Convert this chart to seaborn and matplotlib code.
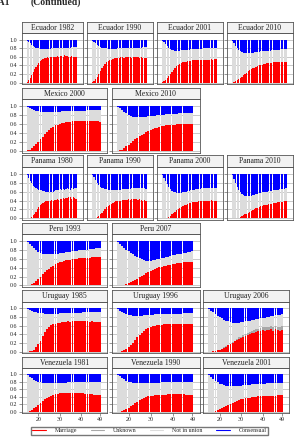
import matplotlib
matplotlib.use("Agg")
import matplotlib.pyplot as plt
from matplotlib.lines import Line2D
import pandas as pd
import seaborn as sns

# ages 15..49, one stacked bar per age
ages = list(range(15, 50))
status_order = ["Marriage", "Unknown", "Not in union", "Consensual"]
status_colors = {"Marriage": "#ff0000", "Unknown": "#a8a8a8",
                 "Not in union": "#dcdcdc", "Consensual": "#0000ff"}
x_ticks = [20, 30, 40, 49]
y_ticks = [0.0, 0.2, 0.4, 0.6, 0.8, 1.0]

# shares (marriage from the bottom, consensual from the top)
no_unknown = [0.0, 0.0, 0.0, 0.0, 0.0, 0.0, 0.0, 0.0, 0.0, 0.0, 0.0, 0.0, 0.0, 0.0, 0.0, 0.0, 0.0, 0.0,
              0.0, 0.0, 0.0, 0.0, 0.0, 0.0, 0.0, 0.0, 0.0, 0.0, 0.0, 0.0, 0.0, 0.0, 0.0, 0.0, 0.0]

ecuador_1982_marriage = [0.02, 0.05, 0.10, 0.17, 0.24, 0.31, 0.37, 0.42, 0.46, 0.50, 0.53, 0.55, 0.57, 0.58, 0.59, 0.58, 0.60, 0.61,
                         0.60, 0.61, 0.59, 0.62, 0.61, 0.63, 0.62, 0.60, 0.65, 0.62, 0.63, 0.61, 0.59, 0.62, 0.60, 0.61, 0.59]
ecuador_1982_consensual = [0.02, 0.05, 0.08, 0.11, 0.14, 0.16, 0.18, 0.19, 0.20, 0.21, 0.21, 0.21, 0.21, 0.21, 0.21, 0.21, 0.21, 0.20,
                           0.20, 0.20, 0.20, 0.19, 0.19, 0.19, 0.19, 0.19, 0.18, 0.18, 0.18, 0.18, 0.18, 0.17, 0.17, 0.17, 0.17]

ecuador_1990_marriage = [0.01, 0.04, 0.08, 0.14, 0.20, 0.27, 0.33, 0.38, 0.43, 0.47, 0.50, 0.52, 0.54, 0.56, 0.57, 0.57, 0.58, 0.58,
                         0.59, 0.59, 0.58, 0.60, 0.59, 0.60, 0.60, 0.58, 0.61, 0.60, 0.60, 0.59, 0.58, 0.59, 0.58, 0.58, 0.57]
ecuador_1990_consensual = [0.02, 0.05, 0.08, 0.11, 0.14, 0.16, 0.18, 0.19, 0.20, 0.20, 0.21, 0.21, 0.21, 0.21, 0.21, 0.21, 0.20, 0.20,
                           0.20, 0.20, 0.20, 0.20, 0.19, 0.19, 0.19, 0.19, 0.19, 0.18, 0.18, 0.18, 0.18, 0.18, 0.17, 0.17, 0.17]

ecuador_2001_marriage = [0.01, 0.03, 0.06, 0.10, 0.15, 0.20, 0.25, 0.30, 0.34, 0.38, 0.41, 0.43, 0.45, 0.47, 0.48, 0.49, 0.50, 0.51,
                         0.51, 0.52, 0.52, 0.53, 0.53, 0.53, 0.54, 0.53, 0.54, 0.54, 0.54, 0.54, 0.54, 0.55, 0.54, 0.55, 0.55]
ecuador_2001_consensual = [0.02, 0.06, 0.10, 0.14, 0.18, 0.21, 0.23, 0.24, 0.25, 0.25, 0.25, 0.25, 0.24, 0.24, 0.24, 0.23, 0.23, 0.23,
                           0.22, 0.22, 0.22, 0.22, 0.21, 0.21, 0.21, 0.21, 0.20, 0.20, 0.20, 0.20, 0.20, 0.19, 0.19, 0.19, 0.19]

ecuador_2010_marriage = [0.00, 0.01, 0.03, 0.05, 0.08, 0.11, 0.14, 0.17, 0.20, 0.23, 0.26, 0.29, 0.31, 0.33, 0.35, 0.37, 0.38, 0.40,
                         0.41, 0.42, 0.43, 0.44, 0.45, 0.45, 0.46, 0.46, 0.47, 0.47, 0.48, 0.48, 0.48, 0.49, 0.49, 0.49, 0.49]
ecuador_2010_consensual = [0.03, 0.08, 0.14, 0.19, 0.23, 0.26, 0.28, 0.30, 0.31, 0.31, 0.31, 0.31, 0.30, 0.30, 0.29, 0.29, 0.28, 0.28,
                           0.27, 0.27, 0.26, 0.26, 0.25, 0.25, 0.25, 0.24, 0.24, 0.24, 0.23, 0.23, 0.23, 0.22, 0.22, 0.22, 0.22]

mexico_2000_marriage = [0.01, 0.03, 0.06, 0.10, 0.15, 0.20, 0.26, 0.32, 0.38, 0.43, 0.47, 0.51, 0.54, 0.57, 0.59, 0.60, 0.62, 0.63,
                        0.64, 0.65, 0.65, 0.66, 0.66, 0.67, 0.67, 0.67, 0.68, 0.67, 0.68, 0.67, 0.68, 0.67, 0.67, 0.66, 0.65]
mexico_2000_consensual = [0.02, 0.04, 0.06, 0.08, 0.10, 0.11, 0.12, 0.13, 0.13, 0.13, 0.13, 0.13, 0.12, 0.12, 0.12, 0.12, 0.11, 0.11,
                          0.11, 0.11, 0.11, 0.10, 0.10, 0.10, 0.10, 0.10, 0.10, 0.10, 0.09, 0.09, 0.09, 0.09, 0.09, 0.09, 0.09]

mexico_2010_marriage = [0.00, 0.01, 0.03, 0.06, 0.10, 0.14, 0.18, 0.22, 0.26, 0.30, 0.33, 0.36, 0.39, 0.42, 0.45, 0.47, 0.49, 0.51,
                        0.52, 0.54, 0.55, 0.56, 0.57, 0.57, 0.58, 0.59, 0.59, 0.60, 0.60, 0.60, 0.61, 0.60, 0.61, 0.60, 0.60]
mexico_2010_consensual = [0.01, 0.05, 0.09, 0.13, 0.16, 0.19, 0.21, 0.23, 0.24, 0.24, 0.24, 0.24, 0.23, 0.23, 0.22, 0.22, 0.21, 0.21,
                          0.20, 0.20, 0.19, 0.19, 0.18, 0.18, 0.18, 0.17, 0.17, 0.17, 0.16, 0.16, 0.16, 0.16, 0.15, 0.15, 0.15]

panama_1980_marriage = [0.00, 0.01, 0.02, 0.04, 0.07, 0.11, 0.15, 0.20, 0.25, 0.29, 0.33, 0.35, 0.37, 0.38, 0.39, 0.40, 0.40, 0.41,
                        0.40, 0.42, 0.41, 0.43, 0.42, 0.44, 0.43, 0.45, 0.44, 0.46, 0.45, 0.47, 0.48, 0.44, 0.47, 0.45, 0.43]
panama_1980_consensual = [0.04, 0.10, 0.16, 0.22, 0.27, 0.30, 0.33, 0.35, 0.36, 0.37, 0.37, 0.38, 0.39, 0.40, 0.41, 0.42, 0.40, 0.41,
                          0.42, 0.38, 0.37, 0.36, 0.37, 0.35, 0.36, 0.34, 0.36, 0.35, 0.33, 0.34, 0.36, 0.32, 0.34, 0.33, 0.32]

panama_1990_marriage = [0.00, 0.01, 0.02, 0.04, 0.06, 0.09, 0.13, 0.17, 0.21, 0.25, 0.28, 0.31, 0.33, 0.35, 0.37, 0.38, 0.39, 0.40,
                        0.40, 0.41, 0.41, 0.42, 0.42, 0.43, 0.42, 0.43, 0.44, 0.43, 0.44, 0.42, 0.43, 0.41, 0.40, 0.41, 0.40]
panama_1990_consensual = [0.03, 0.08, 0.14, 0.20, 0.25, 0.29, 0.31, 0.33, 0.34, 0.35, 0.36, 0.36, 0.37, 0.37, 0.37, 0.37, 0.37, 0.36,
                          0.36, 0.35, 0.35, 0.35, 0.34, 0.34, 0.34, 0.33, 0.33, 0.33, 0.33, 0.32, 0.33, 0.32, 0.32, 0.33, 0.34]

panama_2000_marriage = [0.00, 0.00, 0.01, 0.02, 0.04, 0.06, 0.09, 0.12, 0.15, 0.18, 0.21, 0.24, 0.26, 0.28, 0.30, 0.31, 0.33, 0.34,
                        0.35, 0.36, 0.36, 0.37, 0.37, 0.38, 0.38, 0.39, 0.39, 0.40, 0.39, 0.40, 0.40, 0.41, 0.40, 0.40, 0.40]
panama_2000_consensual = [0.03, 0.09, 0.16, 0.23, 0.29, 0.34, 0.38, 0.40, 0.42, 0.43, 0.43, 0.43, 0.43, 0.42, 0.41, 0.40, 0.39, 0.38,
                          0.37, 0.37, 0.36, 0.35, 0.35, 0.34, 0.34, 0.33, 0.33, 0.33, 0.32, 0.32, 0.32, 0.31, 0.31, 0.31, 0.31]

panama_2010_marriage = [0.00, 0.00, 0.01, 0.01, 0.02, 0.03, 0.05, 0.07, 0.09, 0.11, 0.13, 0.15, 0.17, 0.19, 0.21, 0.23, 0.24, 0.26,
                        0.27, 0.28, 0.29, 0.30, 0.31, 0.32, 0.33, 0.33, 0.34, 0.35, 0.35, 0.36, 0.36, 0.37, 0.37, 0.38, 0.38]
panama_2010_consensual = [0.04, 0.12, 0.21, 0.29, 0.36, 0.41, 0.45, 0.47, 0.49, 0.50, 0.50, 0.50, 0.49, 0.48, 0.47, 0.46, 0.45, 0.44,
                          0.43, 0.42, 0.41, 0.40, 0.40, 0.39, 0.38, 0.38, 0.37, 0.37, 0.36, 0.36, 0.35, 0.35, 0.34, 0.34, 0.33]

peru_1993_marriage = [0.00, 0.01, 0.03, 0.06, 0.10, 0.15, 0.20, 0.25, 0.30, 0.34, 0.38, 0.42, 0.45, 0.48, 0.50, 0.52, 0.54, 0.55,
                      0.57, 0.57, 0.58, 0.59, 0.60, 0.60, 0.61, 0.61, 0.62, 0.62, 0.63, 0.63, 0.64, 0.64, 0.65, 0.65, 0.65]
peru_1993_consensual = [0.02, 0.06, 0.11, 0.16, 0.20, 0.24, 0.27, 0.28, 0.29, 0.30, 0.30, 0.30, 0.29, 0.29, 0.28, 0.27, 0.27, 0.26,
                        0.25, 0.24, 0.24, 0.23, 0.22, 0.22, 0.21, 0.20, 0.20, 0.19, 0.19, 0.18, 0.17, 0.17, 0.16, 0.16, 0.15]

peru_2007_marriage = [0.00, 0.00, 0.01, 0.02, 0.03, 0.05, 0.07, 0.09, 0.12, 0.15, 0.18, 0.21, 0.24, 0.27, 0.30, 0.32, 0.35, 0.37,
                      0.39, 0.41, 0.42, 0.44, 0.45, 0.46, 0.47, 0.48, 0.49, 0.50, 0.50, 0.51, 0.52, 0.52, 0.53, 0.53, 0.54]
peru_2007_consensual = [0.03, 0.07, 0.11, 0.15, 0.19, 0.23, 0.27, 0.30, 0.33, 0.36, 0.39, 0.41, 0.43, 0.44, 0.45, 0.44, 0.43, 0.42,
                        0.41, 0.40, 0.38, 0.37, 0.36, 0.35, 0.34, 0.32, 0.31, 0.30, 0.29, 0.28, 0.27, 0.26, 0.25, 0.24, 0.22]

uruguay_1985_marriage = [0.00, 0.01, 0.02, 0.05, 0.10, 0.17, 0.26, 0.36, 0.45, 0.52, 0.57, 0.61, 0.63, 0.65, 0.66, 0.67, 0.68, 0.68,
                         0.69, 0.70, 0.69, 0.70, 0.71, 0.70, 0.71, 0.70, 0.71, 0.70, 0.70, 0.69, 0.70, 0.69, 0.68, 0.69, 0.68]
uruguay_1985_consensual = [0.02, 0.04, 0.06, 0.08, 0.09, 0.10, 0.11, 0.11, 0.12, 0.12, 0.12, 0.12, 0.12, 0.12, 0.12, 0.11, 0.11, 0.11,
                           0.11, 0.11, 0.10, 0.10, 0.10, 0.10, 0.10, 0.10, 0.09, 0.09, 0.09, 0.09, 0.09, 0.08, 0.08, 0.08, 0.08]

uruguay_1996_marriage = [0.00, 0.00, 0.01, 0.03, 0.06, 0.10, 0.15, 0.21, 0.27, 0.33, 0.39, 0.44, 0.48, 0.52, 0.55, 0.57, 0.59, 0.60,
                         0.61, 0.62, 0.62, 0.63, 0.63, 0.64, 0.63, 0.64, 0.64, 0.65, 0.64, 0.65, 0.64, 0.65, 0.64, 0.64, 0.64]
uruguay_1996_consensual = [0.02, 0.05, 0.08, 0.11, 0.13, 0.15, 0.16, 0.17, 0.17, 0.17, 0.17, 0.17, 0.16, 0.16, 0.15, 0.15, 0.15, 0.14,
                           0.14, 0.14, 0.13, 0.13, 0.13, 0.13, 0.12, 0.12, 0.12, 0.12, 0.12, 0.12, 0.11, 0.11, 0.11, 0.11, 0.11]

uruguay_2006_marriage = [0.00, 0.00, 0.01, 0.02, 0.03, 0.05, 0.07, 0.09, 0.12, 0.15, 0.18, 0.21, 0.24, 0.27, 0.30, 0.32, 0.35, 0.37,
                         0.39, 0.41, 0.43, 0.44, 0.46, 0.47, 0.48, 0.50, 0.49, 0.51, 0.50, 0.52, 0.48, 0.53, 0.50, 0.49, 0.51]
uruguay_2006_unknown = [0.00, 0.00, 0.00, 0.00, 0.00, 0.00, 0.00, 0.01, 0.01, 0.01, 0.01, 0.02, 0.02, 0.02, 0.03, 0.03, 0.04, 0.04,
                        0.05, 0.05, 0.05, 0.06, 0.06, 0.06, 0.07, 0.07, 0.08, 0.07, 0.08, 0.07, 0.09, 0.07, 0.08, 0.09, 0.08]
uruguay_2006_consensual = [0.02, 0.05, 0.09, 0.13, 0.17, 0.20, 0.23, 0.26, 0.28, 0.30, 0.32, 0.33, 0.34, 0.34, 0.33, 0.32, 0.31, 0.30,
                           0.29, 0.28, 0.27, 0.26, 0.25, 0.24, 0.23, 0.22, 0.21, 0.20, 0.19, 0.18, 0.17, 0.16, 0.15, 0.15, 0.14]

venezuela_1981_marriage = [0.01, 0.03, 0.06, 0.10, 0.14, 0.18, 0.23, 0.28, 0.33, 0.37, 0.40, 0.43, 0.45, 0.47, 0.48, 0.49, 0.49, 0.50,
                           0.50, 0.50, 0.50, 0.51, 0.50, 0.50, 0.49, 0.50, 0.49, 0.48, 0.48, 0.47, 0.47, 0.46, 0.46, 0.45, 0.45]
venezuela_1981_consensual = [0.03, 0.07, 0.11, 0.15, 0.18, 0.20, 0.22, 0.23, 0.23, 0.24, 0.24, 0.24, 0.24, 0.24, 0.23, 0.23, 0.23, 0.23,
                             0.23, 0.22, 0.22, 0.22, 0.22, 0.22, 0.22, 0.22, 0.21, 0.21, 0.21, 0.21, 0.21, 0.21, 0.21, 0.21, 0.21]

venezuela_1990_marriage = [0.00, 0.01, 0.03, 0.05, 0.08, 0.11, 0.15, 0.19, 0.23, 0.27, 0.31, 0.34, 0.37, 0.39, 0.41, 0.42, 0.43, 0.44,
                           0.45, 0.45, 0.46, 0.46, 0.46, 0.47, 0.47, 0.47, 0.48, 0.47, 0.48, 0.47, 0.47, 0.46, 0.46, 0.45, 0.44]
venezuela_1990_consensual = [0.02, 0.06, 0.10, 0.14, 0.17, 0.20, 0.22, 0.23, 0.24, 0.24, 0.24, 0.24, 0.24, 0.24, 0.24, 0.23, 0.23, 0.23,
                             0.23, 0.23, 0.22, 0.22, 0.22, 0.22, 0.22, 0.21, 0.21, 0.21, 0.21, 0.21, 0.20, 0.20, 0.20, 0.20, 0.20]

venezuela_2001_marriage = [0.00, 0.00, 0.01, 0.03, 0.05, 0.07, 0.10, 0.13, 0.16, 0.19, 0.22, 0.25, 0.27, 0.30, 0.32, 0.34, 0.35, 0.36,
                           0.37, 0.38, 0.39, 0.40, 0.40, 0.41, 0.41, 0.42, 0.42, 0.42, 0.43, 0.43, 0.43, 0.43, 0.44, 0.44, 0.44]
venezuela_2001_consensual = [0.03, 0.08, 0.13, 0.18, 0.22, 0.25, 0.27, 0.29, 0.30, 0.31, 0.31, 0.31, 0.31, 0.31, 0.30, 0.30, 0.29, 0.29,
                             0.28, 0.28, 0.27, 0.27, 0.26, 0.26, 0.25, 0.25, 0.25, 0.24, 0.24, 0.24, 0.23, 0.23, 0.23, 0.23, 0.23]

# panel rows: (title, marriage, unknown, consensual)
rows = [
    [("Ecuador 1982", ecuador_1982_marriage, no_unknown, ecuador_1982_consensual),
     ("Ecuador 1990", ecuador_1990_marriage, no_unknown, ecuador_1990_consensual),
     ("Ecuador 2001", ecuador_2001_marriage, no_unknown, ecuador_2001_consensual),
     ("Ecuador 2010", ecuador_2010_marriage, no_unknown, ecuador_2010_consensual)],
    [("Mexico 2000", mexico_2000_marriage, no_unknown, mexico_2000_consensual),
     ("Mexico 2010", mexico_2010_marriage, no_unknown, mexico_2010_consensual)],
    [("Panama 1980", panama_1980_marriage, no_unknown, panama_1980_consensual),
     ("Panama 1990", panama_1990_marriage, no_unknown, panama_1990_consensual),
     ("Panama 2000", panama_2000_marriage, no_unknown, panama_2000_consensual),
     ("Panama 2010", panama_2010_marriage, no_unknown, panama_2010_consensual)],
    [("Peru 1993", peru_1993_marriage, no_unknown, peru_1993_consensual),
     ("Peru 2007", peru_2007_marriage, no_unknown, peru_2007_consensual)],
    [("Uruguay 1985", uruguay_1985_marriage, no_unknown, uruguay_1985_consensual),
     ("Uruguay 1996", uruguay_1996_marriage, no_unknown, uruguay_1996_consensual),
     ("Uruguay 2006", uruguay_2006_marriage, uruguay_2006_unknown, uruguay_2006_consensual)],
    [("Venezuela 1981", venezuela_1981_marriage, no_unknown, venezuela_1981_consensual),
     ("Venezuela 1990", venezuela_1990_marriage, no_unknown, venezuela_1990_consensual),
     ("Venezuela 2001", venezuela_2001_marriage, no_unknown, venezuela_2001_consensual)],
]

# layout in pixels of the 297x438 page
W, H = 297, 438
row_pix = [(21.7, 33.3, 84.0), (88.3, 99.3, 152.5), (155.0, 166.7, 220.0),
           (222.7, 234.3, 287.0), (290.0, 301.7, 353.3), (356.7, 368.3, 413.3)]
cols4 = [(21.7, 82.7), (86.7, 152.7), (156.7, 222.7), (226.7, 292.7)]
cols3 = [(21.7, 107.3), (111.5, 199.5), (203.0, 289.0)]

sns.set_style("ticks")
plt.rcParams["font.family"] = ["Liberation Serif", "DejaVu Serif"]

fig = plt.figure(figsize=(W / 100, H / 100), dpi=100)


def box(x0, x1, y0, y1):
    return [x0 / W, 1 - y1 / H, (x1 - x0) / W, (y1 - y0) / H]


for r, panels in enumerate(rows):
    s_top, s_bot, p_bot = row_pix[r]
    cols = cols4 if len(panels) == 4 else cols3
    for c, (title, marriage, unknown, consensual) in enumerate(panels):
        x0, x1 = cols[c]
        not_in_union = [round(1 - m - u - k, 3) for m, u, k in zip(marriage, unknown, consensual)]
        df = pd.DataFrame({
            "age": ages * 4,
            "status": sum([[s] * len(ages) for s in status_order], []),
            "share": marriage + unknown + not_in_union + consensual,
        })

        ax = fig.add_axes(box(x0, x1, s_bot, p_bot))
        sns.histplot(data=df, x="age", weights="share", hue="status",
                     hue_order=status_order[::-1], multiple="stack", discrete=True,
                     shrink=0.88, palette=status_colors, alpha=1, linewidth=0,
                     legend=False, ax=ax)
        scale = (x1 - x0 - 11) / 35
        ax.set_xlim(14.5 - 5 / scale, 49.5 + 6 / scale)
        ax.set_ylim(-0.035, 1.155)
        ax.set_yticks(y_ticks)
        ax.set_xticks(x_ticks)
        ax.set_xlabel("")
        ax.set_ylabel("")
        ax.yaxis.grid(True, color="#a0a0a0", lw=0.4)
        ax.set_axisbelow(True)
        ax.tick_params(direction="out", length=2, width=0.4, color="#444444",
                       labelsize=4.3, pad=1, labelcolor="#222222")
        ax.tick_params(axis="x", bottom=(r == len(rows) - 1), labelbottom=(r == len(rows) - 1))
        ax.tick_params(axis="y", labelleft=(c == 0))
        if c == 0:
            ax.set_yticklabels([f"{t:.1f}" for t in y_ticks])
        for sp in ax.spines.values():
            sp.set_visible(True)
            sp.set_color("#555555")
            sp.set_linewidth(0.6)

        sax = fig.add_axes(box(x0, x1, s_top, s_bot))
        sax.set_facecolor("#f2f2f2")
        sax.set_xticks([])
        sax.set_yticks([])
        for sp in sax.spines.values():
            sp.set_visible(True)
            sp.set_color("#555555")
            sp.set_linewidth(0.6)
        sax.text(0.5, 0.45, title, ha="center", va="center", fontsize=5.6,
                 color="#222222", transform=sax.transAxes)

# page header, partly cut by the top edge as in the source page
fig.text(10 / W, 1 - 5 / H, "Figure A1", ha="right", va="baseline",
         fontsize=7, fontweight="bold")
fig.text(31 / W, 1 - 5 / H, "(Continued)", ha="left", va="baseline",
         fontsize=7, fontweight="bold")

handles = [Line2D([0], [0], color=status_colors[s], lw=0.8) for s in status_order]
fig.legend(handles, status_order, loc="center", ncol=4, mode="expand",
           bbox_to_anchor=(31 / W, 1 - 435 / H, 237 / W, 8.5 / H),
           borderaxespad=0, fontsize=4.3, handlelength=2.2, handletextpad=1.5,
           frameon=True, fancybox=False, edgecolor="#555555", borderpad=0.25)

fig.savefig("out.png", dpi=100)
